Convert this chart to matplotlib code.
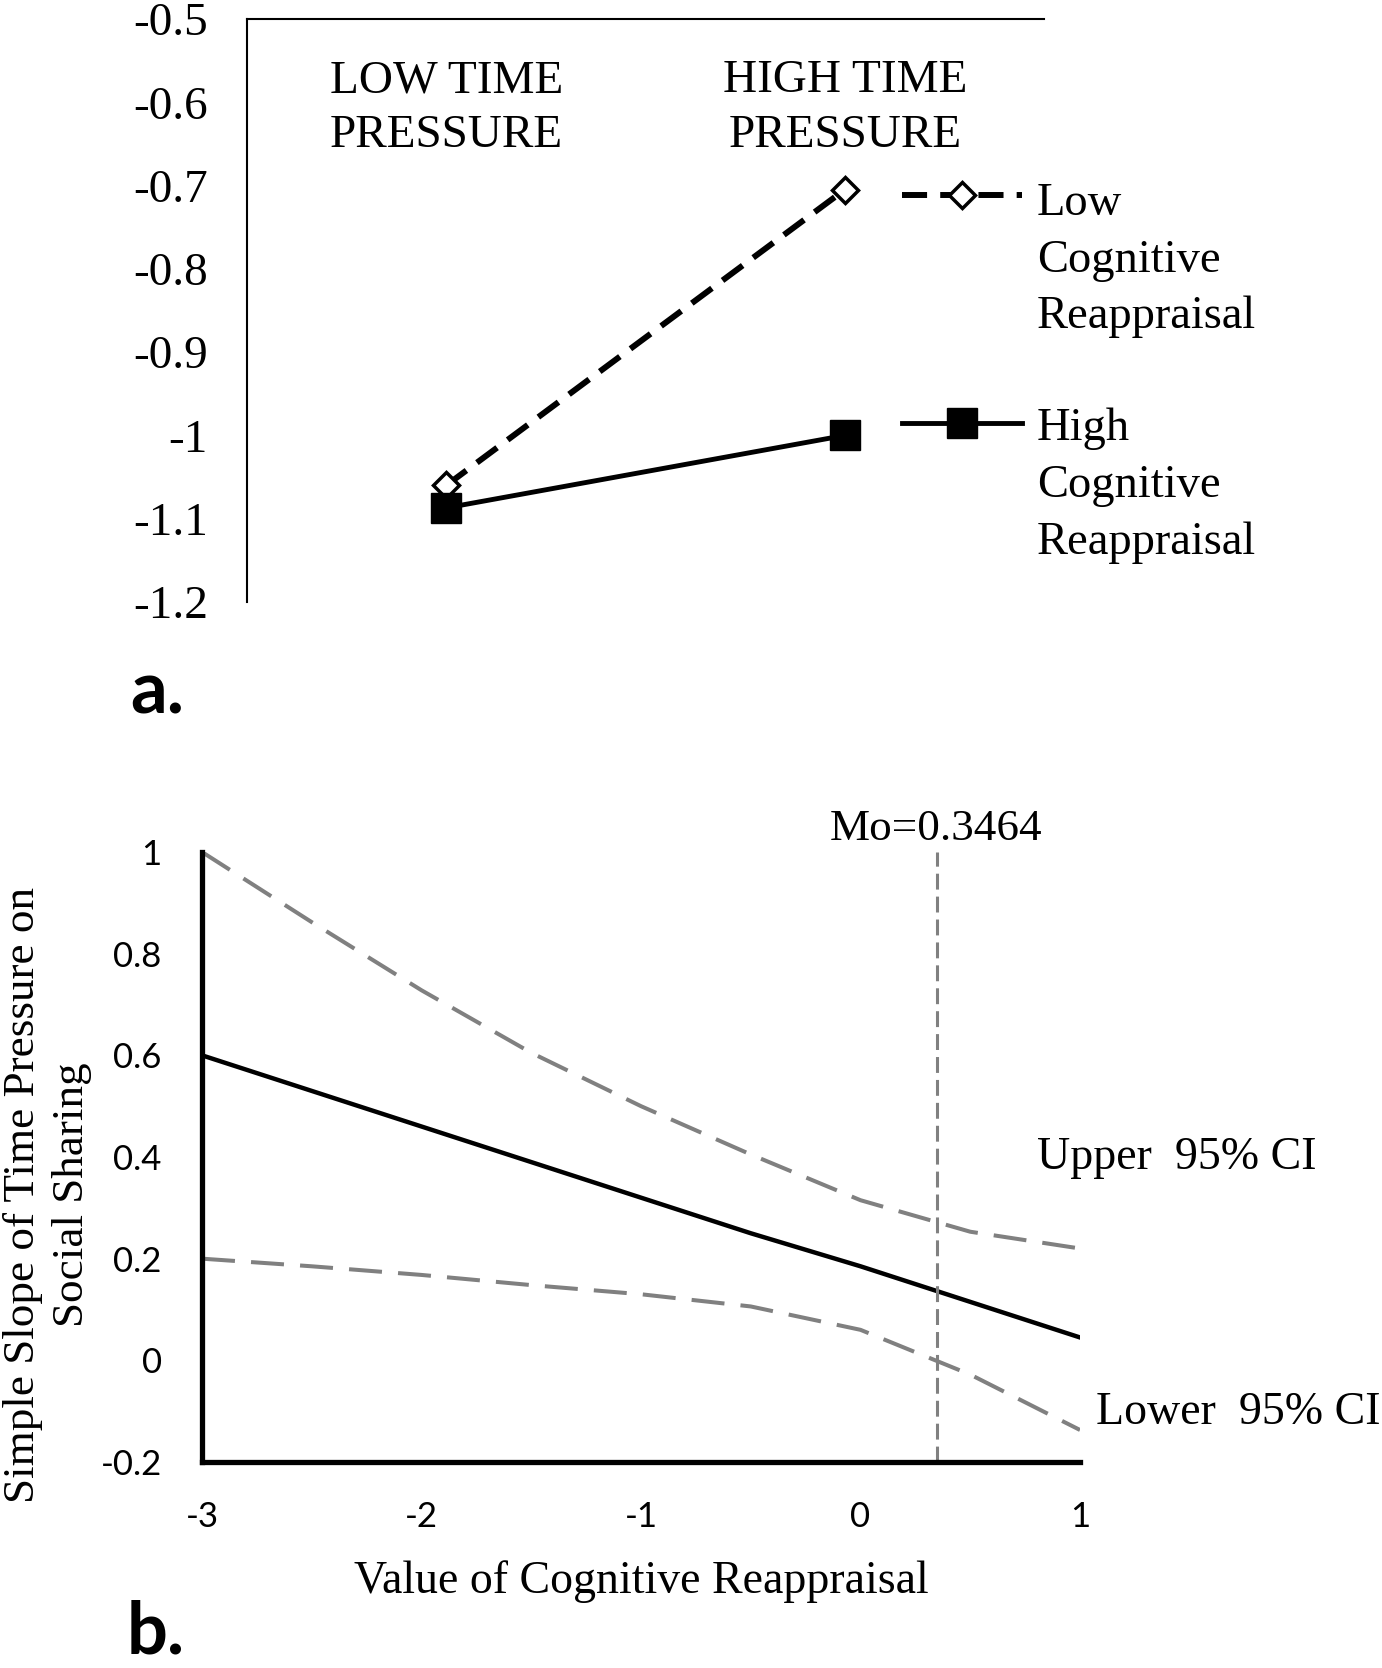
import matplotlib
matplotlib.use("Agg")
import matplotlib.pyplot as plt

plt.rcParams['axes.unicode_minus'] = False

SERIF = 'Liberation Serif'
SANS = 'Lato'

# ---- panel a: interaction plot ----
time_pressure = ["LOW TIME\nPRESSURE", "HIGH TIME\nPRESSURE"]
low_reappraisal = [-1.06, -0.705]
high_reappraisal = [-1.087, -1.0]
series_names = ["Low\nCognitive\nReappraisal", "High\nCognitive\nReappraisal"]
yticks_a = [-0.5, -0.6, -0.7, -0.8, -0.9, -1.0, -1.1, -1.2]
yticklabels_a = ["-0.5", "-0.6", "-0.7", "-0.8", "-0.9", "-1", "-1.1", "-1.2"]

# ---- panel b: Johnson-Neyman plot ----
reappraisal = [-3, -2.5, -2, -1.5, -1, -0.5, 0, 0.5, 1]
simple_slope = [0.60, 0.53, 0.46, 0.39, 0.32, 0.25, 0.185, 0.115, 0.045]
upper_ci = [1.0, 0.862, 0.728, 0.605, 0.5, 0.405, 0.315, 0.253, 0.22]
lower_ci = [0.20, 0.185, 0.168, 0.148, 0.13, 0.106, 0.06, -0.028, -0.137]
mo_value = 0.3464
xticks_b = [-3, -2, -1, 0, 1]
yticks_b = [-0.2, 0, 0.2, 0.4, 0.6, 0.8, 1.0]
yticklabels_b = ["-0.2", "0", "0.2", "0.4", "0.6", "0.8", "1"]

W, H = 1382, 1668
fig = plt.figure(figsize=(W / 100, H / 100), dpi=100)

# ================= panel a =================
ax1 = fig.add_axes([247 / W, 1 - 602 / H, 797 / W, 583 / H])
xs = list(range(len(time_pressure)))
low_style = dict(color='black', lw=4.3, dashes=(4.2, 2.2), marker='D', ms=13,
                 mfc='white', mec='black', mew=2.5)
high_style = dict(color='black', lw=3.5, marker='s', ms=22, mfc='black', mec='black')
ax1.plot(xs, low_reappraisal, **low_style)
ax1.plot(xs, high_reappraisal, **high_style)

ax1.set_xlim(-0.5, 1.5)
ax1.set_ylim(-1.2, -0.5)
for side in ['right', 'bottom']:
    ax1.spines[side].set_visible(False)
for side in ['left', 'top']:
    ax1.spines[side].set_linewidth(1.5)
ax1.set_xticks([])
ax1.set_yticks(yticks_a, yticklabels_a)
ax1.tick_params(axis='y', length=0, pad=28, labelsize=34)
for lbl in ax1.get_yticklabels():
    lbl.set_fontfamily(SERIF)

for i, lab in enumerate(time_pressure):
    ax1.text(i, 0.93, lab, transform=ax1.get_xaxis_transform(), ha='center', va='top',
             fontsize=34, family=SERIF, linespacing=1.36, multialignment='center')

# legend drawn beside the lines
for name, style, ly, ty in zip(series_names, [low_style, high_style],
                                [0.698, 0.307], [0.72, 0.333]):
    line_only = {k: v for k, v in style.items() if not k.startswith('m')}
    ax1.plot([0.822, 0.972], [ly, ly], transform=ax1.transAxes, clip_on=False, **line_only)
    mk = {k: v for k, v in style.items() if k.startswith('m')}
    ax1.plot([0.897], [ly], transform=ax1.transAxes, clip_on=False, ls='none', **mk)
    ax1.text(0.991, ty, name, transform=ax1.transAxes, ha='left', va='top',
             fontsize=33.5, family=SERIF, linespacing=1.44)

fig.text(130 / W, 1 - 713 / H, "a.", fontsize=52, fontweight='bold', family=SANS,
         ha='left', va='baseline')

# ================= panel b =================
ax2 = fig.add_axes([202 / W, 1 - 1462 / H, 878 / W, 610 / H])
gray = '#808080'
ax2.plot(reappraisal, upper_ci, color=gray, lw=2.9, dashes=(8.2, 4))
ax2.plot(reappraisal, lower_ci, color=gray, lw=2.9, dashes=(8.2, 4))
ax2.plot(reappraisal, simple_slope, color='black', lw=3.2)
ax2.axvline(mo_value, color=gray, lw=2.2, dashes=(5.2, 2.3))

ax2.set_xlim(-3, 1)
ax2.set_ylim(-0.2, 1.0)
for side in ['right', 'top']:
    ax2.spines[side].set_visible(False)
for side in ['left', 'bottom']:
    ax2.spines[side].set_linewidth(3.8)
ax2.set_xticks(xticks_b, [str(v) for v in xticks_b])
ax2.set_yticks(yticks_b, yticklabels_b)
ax2.tick_params(axis='x', length=0, pad=28, labelsize=25)
ax2.tick_params(axis='y', length=0, pad=29, labelsize=25)
for lbl in ax2.get_xticklabels() + ax2.get_yticklabels():
    lbl.set_fontfamily(SANS)

ax2.set_xlabel("Value of Cognitive Reappraisal", fontsize=33, family=SERIF, labelpad=20)
fig.text(3 / W, 1 - 1195 / H, "Simple Slope of Time Pressure on\nSocial Sharing",
         rotation=90, ha='left', va='center', multialignment='center',
         fontsize=32.5, family=SERIF, linespacing=1.3)

ax2.text(mo_value, 1.045, "Mo=0.3464", ha='center', va='center', fontsize=32.5, family=SERIF)
ax2.text(0.804, 0.398, "Upper  95% CI", ha='left', va='center', fontsize=33, family=SERIF)
ax2.text(1.073, -0.104, "Lower  95% CI", ha='left', va='center', fontsize=33, family=SERIF)

fig.text(127 / W, 1 - 1667 / H, "b.", fontsize=52, fontweight='bold', family=SANS,
         ha='left', va='bottom')

fig.savefig("out.png", dpi=100, facecolor='white')
